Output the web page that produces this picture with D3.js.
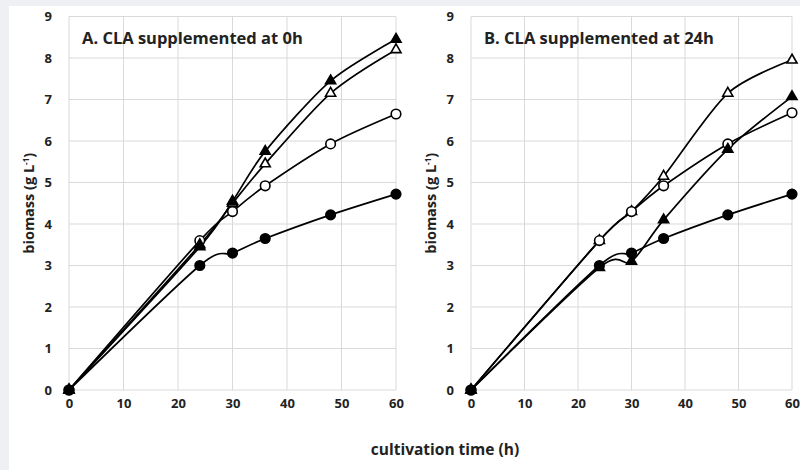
<!DOCTYPE html>
<html>
<head>
<meta charset="utf-8">
<script src="https://cdn.jsdelivr.net/npm/d3@7"></script>
<style>
  body { margin: 0; background: #eef0f3; }
  svg { display: block; }
  text { font-family: "Open Sans", sans-serif; font-weight: 700; fill: #222; }
  .grid line { stroke: #d9d9d9; stroke-width: 1; }
  .tick text { font-size: 13px; }
</style>
</head>
<body>
<div id="chart"></div>
<script>
// cultivation times (h)
var times = [0, 24, 30, 36, 48, 60];
var xTicks = [0, 10, 20, 30, 40, 50, 60];
var yTicks = [0, 1, 2, 3, 4, 5, 6, 7, 8, 9];

// panel A: CLA supplemented at 0h
var aFilledTri = [0, 3.45, 4.55, 5.75, 7.45, 8.45];
var aOpenTri   = [0, 3.5, 4.5, 5.45, 7.15, 8.2];
var aOpenCirc  = [0, 3.6, 4.3, 4.92, 5.93, 6.65];
var aFilledCirc = [0, 3.0, 3.3, 3.65, 4.22, 4.72];

// panel B: CLA supplemented at 24h
var bOpenTri   = [0, 3.6, 4.3, 5.15, 7.15, 7.95];
var bFilledTri = [0, 2.95, 3.1, 4.1, 5.8, 7.07];
var bOpenCirc  = [0, 3.6, 4.3, 4.92, 5.93, 6.68];
var bFilledCirc = [0, 3.0, 3.3, 3.65, 4.22, 4.72];

var panels = [
  {title: "A. CLA supplemented at 0h", left: 69, right: 396,
   series: [
     {values: aOpenCirc, shape: "circle", filled: false},
     {values: aOpenTri, shape: "triangle", filled: false},
     {values: aFilledTri, shape: "triangle", filled: true},
     {values: aFilledCirc, shape: "circle", filled: true}
   ]},
  {title: "B. CLA supplemented at 24h", left: 471, right: 792,
   series: [
     {values: bOpenTri, shape: "triangle", filled: false},
     {values: bOpenCirc, shape: "circle", filled: false},
     {values: bFilledTri, shape: "triangle", filled: true},
     {values: bFilledCirc, shape: "circle", filled: true}
   ]}
];

var W = 800, H = 470;
var plotTop = 16.5, plotBottom = 390;

var svg = d3.select("#chart").append("svg")
    .attr("width", W)
    .attr("height", H);

// white card
svg.append("rect")
    .attr("x", 9).attr("y", 6)
    .attr("width", W - 9).attr("height", H - 6)
    .attr("fill", "#fff");

var y = d3.scaleLinear().domain([0, 9]).range([plotBottom, plotTop]);

var line = d3.line().curve(d3.curveCardinal.tension(0.15));

panels.forEach(function(p) {
  var x = d3.scaleLinear().domain([0, 60]).range([p.left, p.right]);
  var g = svg.append("g");

  // grid
  var grid = g.append("g").attr("class", "grid");
  grid.selectAll(".gy").data(yTicks).enter().append("line")
      .attr("x1", x(0)).attr("x2", x(60))
      .attr("y1", function(d) { return y(d); })
      .attr("y2", function(d) { return y(d); });
  grid.selectAll(".gx").data(xTicks).enter().append("line")
      .attr("x1", function(d) { return x(d); })
      .attr("x2", function(d) { return x(d); })
      .attr("y1", y(0)).attr("y2", y(9));

  // axes (labels only)
  var xAxis = g.append("g")
      .attr("transform", "translate(0," + (plotBottom + 6) + ")")
      .call(d3.axisBottom(x).tickValues(xTicks).tickSize(0).tickPadding(3));
  xAxis.select(".domain").remove();

  var yAxis = g.append("g")
      .attr("transform", "translate(" + (p.left - 10) + ",0)")
      .call(d3.axisLeft(y).tickValues(yTicks).tickSize(0).tickPadding(7));
  yAxis.select(".domain").remove();

  // y title
  var yt = g.append("text")
      .attr("transform", "translate(" + (p.left - 35) + "," + ((plotTop + plotBottom) / 2) + ") rotate(-90)")
      .attr("text-anchor", "middle")
      .style("font-size", "14.5px");
  yt.append("tspan").text("biomass (g L");
  yt.append("tspan").attr("dy", -5).style("font-size", "8px").text("-1");
  yt.append("tspan").attr("dy", 5).text(")");

  // panel title
  g.append("text")
      .attr("x", x(0) + 13)
      .attr("y", 44)
      .style("font-size", "16.5px")
      .text(p.title);

  // series
  p.series.forEach(function(s) {
    var pts = times.map(function(t, i) { return [x(t), y(s.values[i])]; });
    g.append("path")
        .attr("d", line(pts))
        .attr("fill", "none")
        .attr("stroke", "#000")
        .attr("stroke-width", 1.7);
  });
  p.series.forEach(function(s) {
    var pts = times.map(function(t, i) { return [x(t), y(s.values[i])]; });
    var sym = d3.symbol()
        .type(s.shape === "circle" ? d3.symbolCircle : d3.symbolTriangle)
        .size(s.shape === "circle" ? 72 : 44);

    g.selectAll(null).data(pts).enter().append("path")
        .attr("transform", function(d) { return "translate(" + d[0] + "," + d[1] + ")"; })
        .attr("d", sym)
        .attr("fill", s.filled ? "#000" : "#fff")
        .attr("stroke", "#000")
        .attr("stroke-width", 1.6);
  });
});

// shared x title
svg.append("text")
    .attr("x", 445)
    .attr("y", 455)
    .attr("text-anchor", "middle")
    .style("font-size", "15.5px")
    .text("cultivation time (h)");
</script>
</body>
</html>
